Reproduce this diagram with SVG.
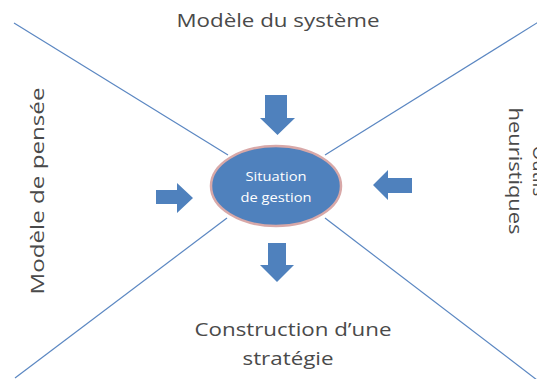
<svg xmlns="http://www.w3.org/2000/svg" width="537" height="379" viewBox="0 0 537 379">
<style>
.lbl{font-family:"Open Sans","Liberation Sans",sans-serif;font-size:18.5px;fill:#4a4a4a;text-anchor:middle}
.ctr{font-family:"Open Sans","Liberation Sans",sans-serif;font-size:12px;fill:#ffffff;text-anchor:middle}
.ln{stroke:#5b87c2;stroke-width:1.2;fill:none}
.arr{fill:#4f81bd;stroke:none}
</style>
<rect width="537" height="379" fill="#ffffff"/>
<g id="connectors">
<line class="ln" x1="14" y1="23" x2="228" y2="155"/>
<line class="ln" x1="540" y1="21" x2="325" y2="155"/>
<line class="ln" x1="15" y1="378" x2="227" y2="218"/>
<line class="ln" x1="325" y1="218" x2="537" y2="380"/>
</g>
<g id="arrows">
<polygon class="arr" points="265,95 287,95 287,118 295,118 277.5,135 260,118 265,118"/>
<polygon class="arr" points="268,243 286,243 286,265 294,265 277,282 260,265 268,265"/>
<polygon class="arr" points="156,190 177,190 177,183 193,198 177,213 177,204 156,204"/>
<polygon class="arr" points="412,178 388,178 388,170 373,185 388,200 388,193 412,193"/>
</g>
<g id="center">
<ellipse cx="276" cy="186" rx="65" ry="40" fill="#4f81bd" stroke="#d8a8a8" stroke-width="2.5"/>
<text class="ctr" x="276" y="181" textLength="61" lengthAdjust="spacingAndGlyphs">Situation</text>
<text class="ctr" x="276" y="202" textLength="71" lengthAdjust="spacingAndGlyphs">de gestion</text>
</g>
<g id="top">
<text class="lbl" x="278" y="27" textLength="203" lengthAdjust="spacingAndGlyphs">Modèle du système</text>
</g>
<g id="left">
<text class="lbl" transform="translate(44,191) rotate(-90)" textLength="207" lengthAdjust="spacingAndGlyphs">Modèle de pensée</text>
</g>
<g id="right">
<text class="lbl" transform="translate(533,171) rotate(90)">Outils</text>
<text class="lbl" transform="translate(509,171) rotate(90)" textLength="127" lengthAdjust="spacingAndGlyphs">heuristiques</text>
</g>
<g id="bottom">
<text class="lbl" x="293" y="336" textLength="197" lengthAdjust="spacingAndGlyphs">Construction d’une</text>
<text class="lbl" x="288" y="365" textLength="91" lengthAdjust="spacingAndGlyphs">stratégie</text>
</g>
</svg>
